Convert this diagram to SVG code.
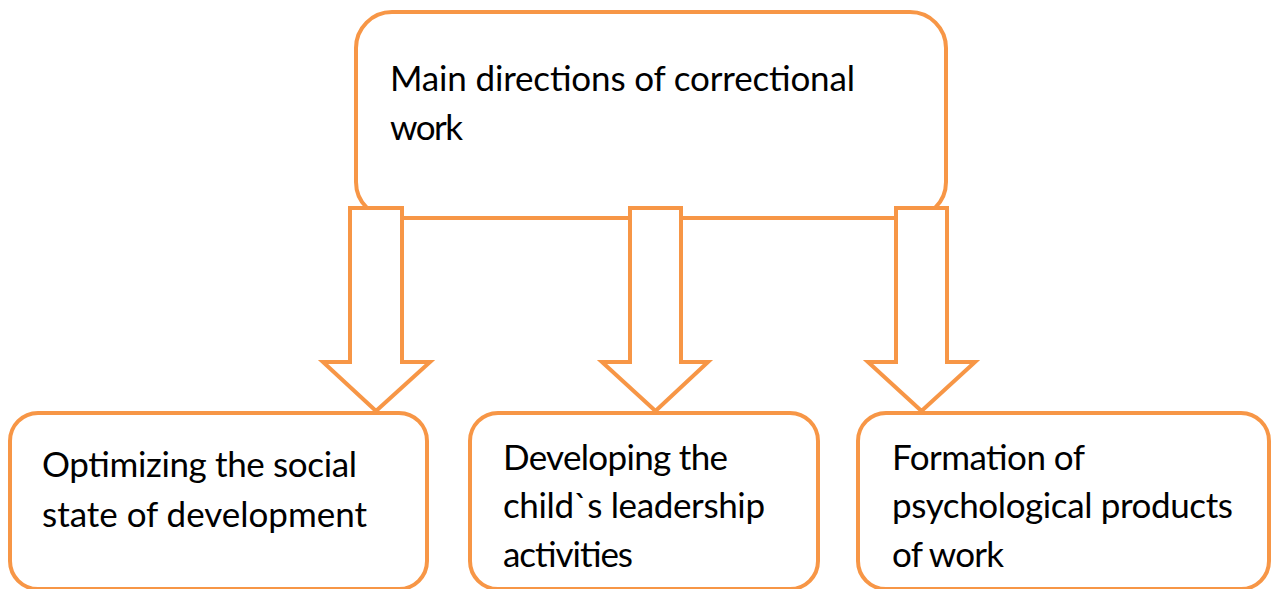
<svg xmlns="http://www.w3.org/2000/svg" width="1272" height="589" viewBox="0 0 1272 589">
<style>
.box{fill:#fff;stroke:#F79646;stroke-width:4}
.arr{fill:#fff;stroke:#F79646;stroke-width:4;stroke-linejoin:miter}
.t{font-family:Lato,"Open Sans","Liberation Sans",sans-serif;font-size:35px;fill:#000}
</style>
<rect width="1272" height="589" fill="#fff"/>
<g id="node-main">
<rect class="box" x="356" y="12" width="590" height="206" rx="36" ry="36"/>
<text class="t" x="390" y="91" textLength="465">Main directions of correctional</text>
<text class="t" x="390" y="140" textLength="73">work</text>
</g>
<g id="connectors">
<path class="arr" d="M350,208 H402 V362 H430 L376,411 L323,362 H350 Z"/>
<path class="arr" d="M630,208 H681 V362 H708 L655.5,411 L602,362 H630 Z"/>
<path class="arr" d="M896,208 H947 V362 H975 L921.5,411 L868,362 H896 Z"/>
</g>
<g id="node-social">
<rect class="box" x="10" y="413" width="417" height="176" rx="28" ry="28"/>
<text class="t" x="42" y="477" textLength="315">Optimizing the social</text>
<text class="t" x="42" y="527" textLength="325">state of development</text>
</g>
<g id="node-leadership">
<rect class="box" x="470" y="413" width="348" height="176" rx="28" ry="28"/>
<text class="t" x="503" y="470" textLength="225">Developing the</text>
<text class="t" x="503" y="518" textLength="262">child`s leadership</text>
<text class="t" x="503" y="567" textLength="130">activities</text>
</g>
<g id="node-formation">
<rect class="box" x="858" y="413" width="411" height="176" rx="28" ry="28"/>
<text class="t" x="892" y="470" textLength="193">Formation of</text>
<text class="t" x="892" y="518" textLength="341">psychological products</text>
<text class="t" x="892" y="567" textLength="112">of work</text>
</g>
</svg>
